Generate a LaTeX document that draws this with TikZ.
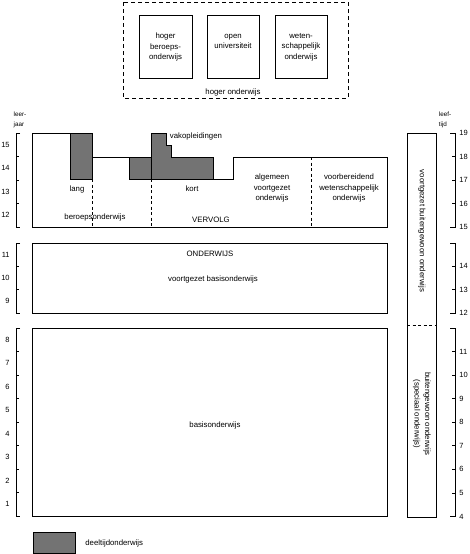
\documentclass[tikz,border=0pt]{standalone}
\usepackage{fontspec}
\setmainfont{Liberation Sans}
\begin{document}
\begin{tikzpicture}[x=1pt,y=-1pt,line width=0.8pt,
  lbl/.style={font=\fontsize{7.8}{10.5}\selectfont, inner sep=0pt, align=center},
  num/.style={font=\fontsize{7.5}{8}\selectfont, inner sep=0pt},
  small/.style={font=\fontsize{6.3}{9.5}\selectfont, inner sep=0pt, align=left},
  grey/.style={fill=black!55, draw=black},
  dsh/.style={dash pattern=on 4pt off 3pt},
  dshv/.style={dash pattern=on 3pt off 2.5pt, line width=0.7pt}]
\useasboundingbox (0,0) rectangle (470,554);

% ---------- hoger onderwijs ----------
\draw[dsh] (123,2) rectangle (348,98);
\draw (139,15) rectangle (192,78);
\draw (207,15) rectangle (259,78);
\draw (275,15) rectangle (327,78);
\node[lbl] (hbo) at (165.5,47) {hoger\\beroeps-\\onderwijs};
\node[lbl] (ou) at (233,41.5) {open\\universiteit};
\node[lbl] (wo) at (301,47) {weten-\\schappelijk\\onderwijs};
\node[lbl] (ho) at (233,92) {hoger onderwijs};

% ---------- vervolgonderwijs ----------
\draw[grey] (70,133) rectangle (92,179);
\draw[grey] (129,157) rectangle (151,179);
\draw[grey] (151,133) -- (166,133) -- (166,145) -- (171,145) -- (171,157)
  -- (213,157) -- (213,179) -- (151,179) -- cycle;
\draw (32,227) -- (32,133) -- (92,133) -- (92,157) -- (151,157) -- (151,133)
  -- (166,133) -- (166,145) -- (171,145) -- (171,157) -- (213,157) -- (213,179)
  -- (233,179) -- (233,157) -- (387,157) -- (387,227) -- cycle;
\draw[dshv] (92,179) -- (92,227);
\draw[dshv] (151,179) -- (151,227);
\draw[dshv] (311,157) -- (311,227);
\node[lbl] (vak) at (196,136) {vakopleidingen};
\node[lbl] (lang) at (77,189) {lang};
\node[lbl] (kort) at (192,189) {kort};
\node[lbl] (bo) at (95,217) {beroepsonderwijs};
\node[lbl] (vervolg) at (211,220) {VERVOLG};
\node[lbl] (avo) at (272,188) {algemeen\\voortgezet\\onderwijs};
\node[lbl] (vwo) at (349,188) {voorbereidend\\wetenschappelijk\\onderwijs};

% ---------- voortgezet basisonderwijs ----------
\draw (32,243) rectangle (387,313);
\node[lbl] (ond) at (210,254) {ONDERWIJS};
\node[lbl] (vbo) at (213,279) {voortgezet basisonderwijs};

% ---------- basisonderwijs ----------
\draw (32,328) rectangle (387,516);
\node[lbl] (bas) at (215,425) {basisonderwijs};

% ---------- buitengewoon onderwijs ----------
\draw (407,133) rectangle (436,517);
\draw[dshv] (407,325) -- (436,325);
\node[lbl, rotate=-90] (vbu) at (422,231) {voortgezet buitengewoon onderwijs};
\node[lbl, rotate=-90] (bu) at (422,414) {buitengewoon onderwijs\\(speciaal onderwijs)};

% ---------- left scale (leerjaar) ----------
\node[small] (leerjaar) at (20,120) {leer-\\jaar};
\draw[line width=0.7pt] (20,133) -- (16,133) -- (16,227) -- (20,227);
\foreach \i in {1,2,3} \draw[line width=0.7pt] (16,133+23.5*\i) -- (19,133+23.5*\i);
\foreach \i [evaluate=\i as \n using int(15-\i)] in {0,...,3}
  \node[num, anchor=east] (la\i) at (10,133+23.5*\i+11.75) {\n};
\draw[line width=0.7pt] (20,243) -- (16,243) -- (16,313) -- (20,313);
\foreach \i in {1,2} \draw[line width=0.7pt] (16,243+23.33*\i) -- (19,243+23.33*\i);
\foreach \i [evaluate=\i as \n using int(11-\i)] in {0,...,2}
  \node[num, anchor=east] (lb\i) at (10,243+23.33*\i+11.67) {\n};
\draw[line width=0.7pt] (20,328) -- (16,328) -- (16,516) -- (20,516);
\foreach \i in {1,...,7} \draw[line width=0.7pt] (16,328+23.5*\i) -- (19,328+23.5*\i);
\foreach \i [evaluate=\i as \n using int(8-\i)] in {0,...,7}
  \node[num, anchor=east] (lc\i) at (10,328+23.5*\i+11.75) {\n};

% ---------- right scale (leeftijd) ----------
\node[small] (leeftijd) at (445,120) {leef-\\tijd};
\draw[line width=0.7pt] (450,133) -- (455,133) -- (455,227) -- (450,227);
\foreach \i in {1,2,3} \draw[line width=0.7pt] (455,133+23.5*\i) -- (452,133+23.5*\i);
\foreach \i [evaluate=\i as \n using int(19-\i)] in {0,...,4}
  \node[num, anchor=west] (ra\i) at (459,133+23.5*\i) {\n};
\draw[line width=0.7pt] (450,243) -- (455,243) -- (455,313) -- (450,313);
\foreach \i in {1,2} \draw[line width=0.7pt] (455,243+23.33*\i) -- (452,243+23.33*\i);
\foreach \i [evaluate=\i as \n using int(15-\i)] in {1,2,3}
  \node[num, anchor=west] (rb\i) at (459,243+23.33*\i) {\n};
\draw[line width=0.7pt] (450,328) -- (455,328) -- (455,516.5) -- (450,516.5);
\foreach \i in {1,...,7} \draw[line width=0.7pt] (455,328+23.56*\i) -- (452,328+23.56*\i);
\foreach \i [evaluate=\i as \n using int(12-\i)] in {1,...,8}
  \node[num, anchor=west] (rc\i) at (459,328+23.56*\i) {\n};

% ---------- legend ----------
\draw[grey] (33,532) rectangle (75,553);
\node[lbl, anchor=west] (legend) at (85,543) {deeltijdonderwijs};
\end{tikzpicture}
\end{document}
